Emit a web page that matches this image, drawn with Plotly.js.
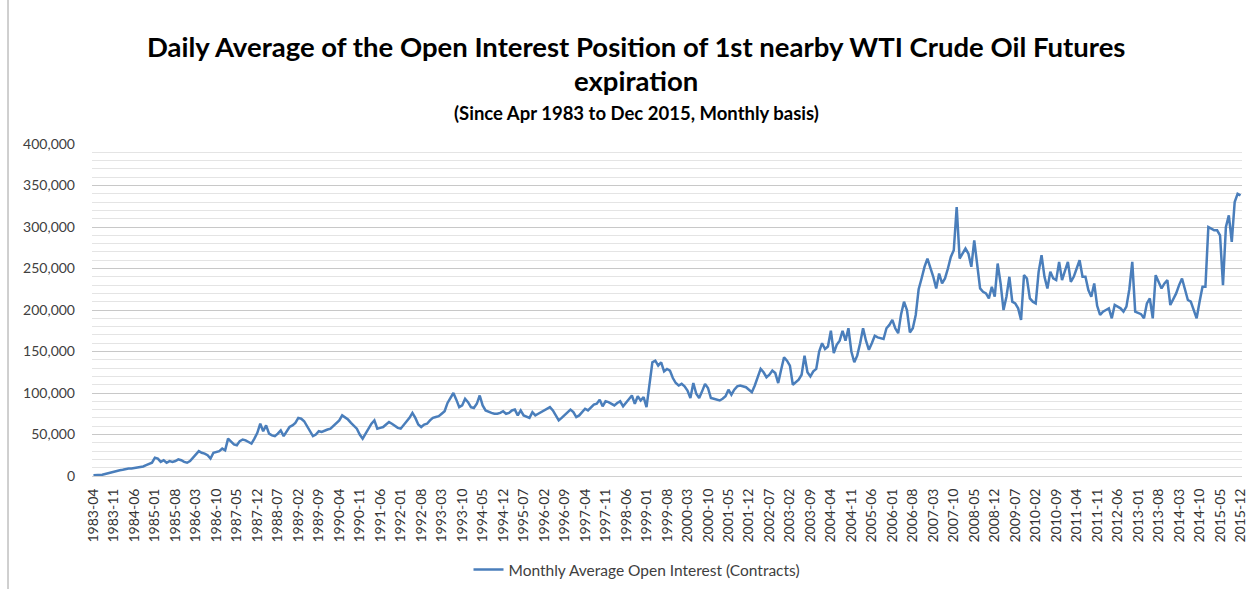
<!DOCTYPE html>
<html>
<head>
<meta charset="utf-8">
<script src="https://cdn.plot.ly/plotly-3.0.1.min.js"></script>
<style>
  html, body { margin: 0; padding: 0; background: #ffffff; }
  #chart { width: 1252px; height: 589px; }
</style>
</head>
<body>
<div id="chart"></div>
<script>
// Monthly average open interest (contracts)
const oi1983 = [1000,1100,1200,1500,2500,3500,4500,5500,6000]; // Apr-Dec
const oi1984 = [7000,7500,8500,9000,9000,9500,10000,10500,11500,13000,14500,16000];
const oi1985 = [22000,21000,17000,19000,16000,18000,17000,18000,20000,19000,17000,16000];
const oi1986 = [18000,22000,26000,30000,28000,27000,25000,21000,28000,29000,30000,33000];
const oi1987 = [31000,45000,41000,38000,37000,42000,44000,43000,41000,39000,45000,52000];
const oi1988 = [63000,54000,61000,51000,49000,48000,51000,55000,48000,53000,59000,61000];
const oi1989 = [64000,70000,69000,66000,60000,53000,48000,50000,54000,53000,55000,56000];
const oi1990 = [57000,60000,63000,67000,73000,71000,68000,64000,61000,57000,50000,45000];
const oi1991 = [51000,58000,63000,67000,57000,58000,59000,62000,65000,63000,60000,58000];
const oi1992 = [57000,61000,65000,70000,76000,70000,62000,59000,62000,63000,67000,70000];
const oi1993 = [71000,72000,75000,78000,88000,95000,100000,92000,83000,85000,93000,89000];
const oi1994 = [83000,82000,87000,97000,85000,79000,77000,76000,75000,75000,76000,78000];
const oi1995 = [75000,76000,79000,80000,73000,79000,73000,71000,70000,77000,73000,75000];
const oi1996 = [77000,80000,82000,83000,79000,73000,67000,70000,73000,76000,80000,77000];
const oi1997 = [71000,73000,77000,81000,79000,82000,86000,87000,92000,84000,90000,89000];
const oi1998 = [87000,85000,88000,90000,84000,88000,92000,97000,87000,96000,91000,95000];
const oi1999 = [83000,110000,137000,139000,133000,137000,126000,129000,127000,118000,112000,109000];
const oi2000 = [111000,108000,103000,94000,112000,99000,94000,102000,111000,106000,94000,93000];
const oi2001 = [92000,91000,93000,96000,104000,98000,104000,108000,109000,108000,107000,104000];
const oi2002 = [101000,109000,118000,129000,125000,119000,122000,127000,124000,112000,128000,143000];
const oi2003 = [139000,133000,110000,113000,116000,122000,145000,125000,120000,126000,129000,150000];
const oi2004 = [160000,153000,156000,175000,148000,158000,163000,175000,163000,178000,150000,137000];
const oi2005 = [145000,160000,178000,163000,152000,160000,169000,167000,166000,165000,178000,182000];
const oi2006 = [188000,178000,172000,195000,210000,200000,173000,178000,194000,225000,238000,252000];
const oi2007 = [262000,252000,240000,226000,244000,232000,238000,250000,264000,272000,324000,262000];
const oi2008 = [268000,274000,268000,252000,284000,252000,226000,222000,220000,214000,228000,216000];
const oi2009 = [256000,232000,200000,216000,240000,210000,208000,202000,188000,242000,238000,214000];
const oi2010 = [210000,208000,246000,266000,240000,226000,246000,238000,236000,258000,236000,247000];
const oi2011 = [258000,234000,240000,250000,260000,240000,240000,224000,216000,232000,205000,194000];
const oi2012 = [198000,200000,202000,190000,206000,204000,202000,198000,204000,225000,258000,198000];
const oi2013 = [196000,195000,190000,208000,214000,190000,242000,234000,226000,232000,236000,206000];
const oi2014 = [213000,220000,230000,238000,225000,212000,210000,200000,190000,210000,228000,228000];
const oi2015 = [300000,298000,296000,296000,290000,230000,300000,314000,282000,330000,340000,338000];

const firstYear = 1983, firstMonth = 4;
const yTickVals = [0,50000,100000,150000,200000,250000,300000,350000,400000];

const titleLine1 = "Daily Average of the Open Interest Position of 1st nearby WTI Crude Oil Futures";
const titleLine2 = "expiration";
const subTitle = "(Since Apr 1983 to Dec 2015, Monthly basis)";
const seriesName = "Monthly Average Open Interest (Contracts)";

const values = [].concat(oi1983, oi1984, oi1985, oi1986, oi1987, oi1988, oi1989, oi1990,
  oi1991, oi1992, oi1993, oi1994, oi1995, oi1996, oi1997, oi1998, oi1999, oi2000,
  oi2001, oi2002, oi2003, oi2004, oi2005, oi2006, oi2007, oi2008, oi2009, oi2010,
  oi2011, oi2012, oi2013, oi2014, oi2015);

// month category labels (YYYY-MM)
const months = values.map((_, i) => {
  const t = (firstMonth - 1) + i;
  const y = firstYear + Math.floor(t / 12);
  const m = (t % 12) + 1;
  return y + "-" + (m < 10 ? "0" + m : "" + m);
});
const xTickLabels = months.filter((_, i) => i % 7 === 0);

const FONT = "Lato, 'Open Sans', 'DejaVu Sans', sans-serif";

const trace = {
  type: "scatter",
  mode: "lines",
  x: months,
  y: values,
  name: seriesName,
  line: { color: "#4a7ebb", width: 2.5 },
  hoverinfo: "x+y"
};

const L = 92, R = 10, T = 144, B = 113, H = 589, W = 1252;
const plotH = H - T - B, plotW = W - L - R;
const py = px => (H - B - px) / plotH;
const pxX = px => (px - L) / plotW;

const layout = {
  width: W, height: H,
  margin: { l: L, r: R, t: T, b: B, pad: 0, autoexpand: false },
  paper_bgcolor: "#ffffff",
  plot_bgcolor: "#ffffff",
  font: { family: FONT, color: "#595959", size: 12 },
  showlegend: true,
  legend: {
    orientation: "h", x: pxX(637), xanchor: "center", y: py(570), yanchor: "middle",
    font: { family: FONT, size: 15.5, color: "#404040" },
    itemwidth: 30
  },
  xaxis: {
    type: "category",
    range: [-0.5, values.length - 0.5],
    tickmode: "array",
    tickvals: xTickLabels,
    ticktext: xTickLabels,
    tickangle: -90,
    tickfont: { family: FONT, size: 14, color: "#333333" },
    showgrid: false,
    showline: true,
    linecolor: "#d0d0d0",
    linewidth: 1,
    ticks: "",
    ticklabelstandoff: 6,
    zeroline: false,
    automargin: false,
    fixedrange: true
  },
  yaxis: {
    range: [0, 400000],
    tickmode: "array",
    tickvals: yTickVals,
    tickformat: ",d",
    tickfont: { family: FONT, size: 14, color: "#404040" },
    showgrid: true,
    gridcolor: "#c8c8c8",
    gridwidth: 1,
    minor: { dtick: 10000, showgrid: true, gridcolor: "#e4e4e4", gridwidth: 1 },
    zeroline: false,
    showline: false,
    ticks: "",
    ticklabelstandoff: 16,
    automargin: false,
    fixedrange: true
  },
  annotations: [
    { text: "<b>" + titleLine1 + "</b>", xref: "paper", yref: "paper", x: pxX(636), y: py(47),
      xanchor: "center", yanchor: "middle", showarrow: false,
      font: { family: FONT, size: 27.5, color: "#000000" } },
    { text: "<b>" + titleLine2 + "</b>", xref: "paper", yref: "paper", x: pxX(636), y: py(80),
      xanchor: "center", yanchor: "middle", showarrow: false,
      font: { family: FONT, size: 27.5, color: "#000000" } },
    { text: "<b>" + subTitle + "</b>", xref: "paper", yref: "paper", x: pxX(636), y: py(113),
      xanchor: "center", yanchor: "middle", showarrow: false,
      font: { family: FONT, size: 18.5, color: "#000000" } }
  ],
  shapes: [
    { type: "line", xref: "paper", yref: "paper", x0: pxX(8), x1: pxX(8), y0: py(0), y1: py(589),
      line: { color: "#a0a0a0", width: 1 } }
  ]
};

Plotly.newPlot("chart", [trace], layout, { displayModeBar: false, staticPlot: true });
</script>
</body>
</html>
